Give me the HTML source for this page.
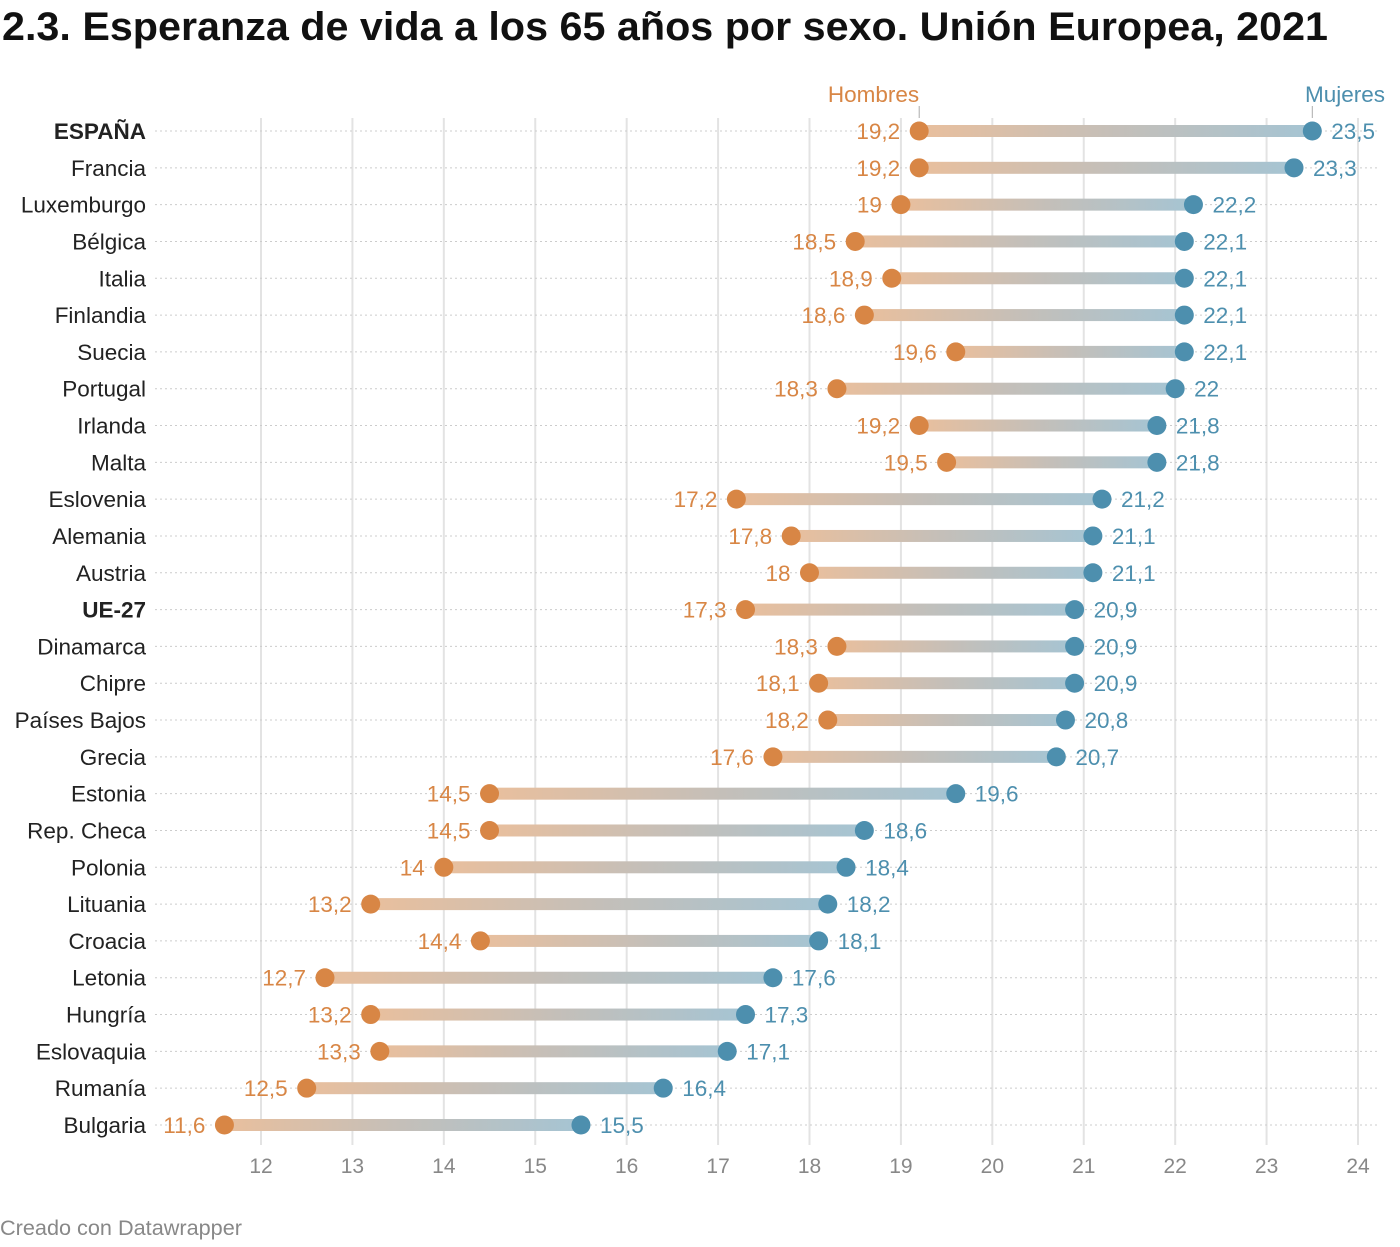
<!DOCTYPE html>
<html><head><meta charset="utf-8"><style>
body{margin:0;background:#fff;font-family:"Liberation Sans",sans-serif}
svg text{font-family:"Liberation Sans",sans-serif}
</style></head><body>
<svg id="c" width="1400" height="1242">
<defs><linearGradient id="g" x1="0" x2="1"><stop offset="0" stop-color="#e9bf9d"/><stop offset="0.5" stop-color="#c4bfb9"/><stop offset="1" stop-color="#a5c4d3"/></linearGradient></defs>
<text x="2" y="40" font-size="40" font-weight="bold" fill="#111" textLength="1326" lengthAdjust="spacingAndGlyphs">2.3. Esperanza de vida a los 65 años por sexo. Unión Europea, 2021</text>
<text x="0" y="1235" font-size="21" fill="#888" textLength="242" lengthAdjust="spacingAndGlyphs">Creado con Datawrapper</text>
</svg>
<script>
const countries=["ESPAÑA","Francia","Luxemburgo","Bélgica","Italia","Finlandia","Suecia","Portugal","Irlanda","Malta","Eslovenia","Alemania","Austria","UE-27","Dinamarca","Chipre","Países Bajos","Grecia","Estonia","Rep. Checa","Polonia","Lituania","Croacia","Letonia","Hungría","Eslovaquia","Rumanía","Bulgaria"];
const hombres=[19.2,19.2,19,18.5,18.9,18.6,19.6,18.3,19.2,19.5,17.2,17.8,18,17.3,18.3,18.1,18.2,17.6,14.5,14.5,14,13.2,14.4,12.7,13.2,13.3,12.5,11.6];
const mujeres=[23.5,23.3,22.2,22.1,22.1,22.1,22.1,22,21.8,21.8,21.2,21.1,21.1,20.9,20.9,20.9,20.8,20.7,19.6,18.6,18.4,18.2,18.1,17.6,17.3,17.1,16.4,15.5];
const ticks=[12,13,14,15,16,17,18,19,20,21,22,23,24];
const svg=document.getElementById('c');const NS='http://www.w3.org/2000/svg';
const x=v=>261+(v-12)*(1358-261)/12;
const y=i=>131+i*(1125-131)/27;
const fmt=v=>String(v).replace('.',',');
function mk(t,a,txt){const e=document.createElementNS(NS,t);for(const k in a)e.setAttribute(k,a[k]);if(txt!==undefined)e.textContent=txt;svg.appendChild(e);return e;}
ticks.forEach(t=>{
 const l=mk('line',{x1:x(t),x2:x(t),y1:118,y2:1145,stroke:'#e3e3e3','stroke-width':2});
 
 
 const tx=mk('text',{x:x(t),y:1173,'font-size':21,fill:'#888','text-anchor':'middle'},t);
 
 
});
countries.forEach((c,i)=>{
 const yy=y(i);
 const r=mk('line',{x1:155,x2:1378,y1:yy,y2:yy,stroke:'#ccc','stroke-width':1,'stroke-dasharray':'2,3'});
 
 
 const bold=(c==="ESPAÑA"||c==="UE-27");
 const lb=mk('text',{x:146,y:yy+8,'font-size':22.5,fill:'#222','text-anchor':'end','font-weight':bold?'bold':'normal'},c);
 
 
 const b=mk('rect',{x:x(hombres[i]),y:yy-6,width:x(mujeres[i])-x(hombres[i]),height:12,fill:'url(#g)'});
 
 
 const d1=mk('circle',{cx:x(hombres[i]),cy:yy,r:9.5,fill:'#d88645'});
 
 
 const d2=mk('circle',{cx:x(mujeres[i]),cy:yy,r:9.5,fill:'#4d8fae'});
 
 
 const v1=mk('text',{x:x(hombres[i])-19,y:yy+8,'font-size':22.5,fill:'#d88645','text-anchor':'end'},fmt(hombres[i]));
 
 
 const v2=mk('text',{x:x(mujeres[i])+19,y:yy+8,'font-size':22.5,fill:'#4d8fae'},fmt(mujeres[i]));
 
 
});
const h=mk('text',{x:x(hombres[0]),y:102,'font-size':22.5,fill:'#d88645','text-anchor':'end'},'Hombres');


const hl=mk('line',{x1:x(hombres[0]),x2:x(hombres[0]),y1:106,y2:118,stroke:'#aaa'});


const m=mk('text',{x:1385,y:102,'font-size':22.5,fill:'#4d8fae','text-anchor':'end'},'Mujeres');


const ml=mk('line',{x1:x(mujeres[0]),x2:x(mujeres[0]),y1:106,y2:118,stroke:'#aaa'});


</script>
</body></html>
